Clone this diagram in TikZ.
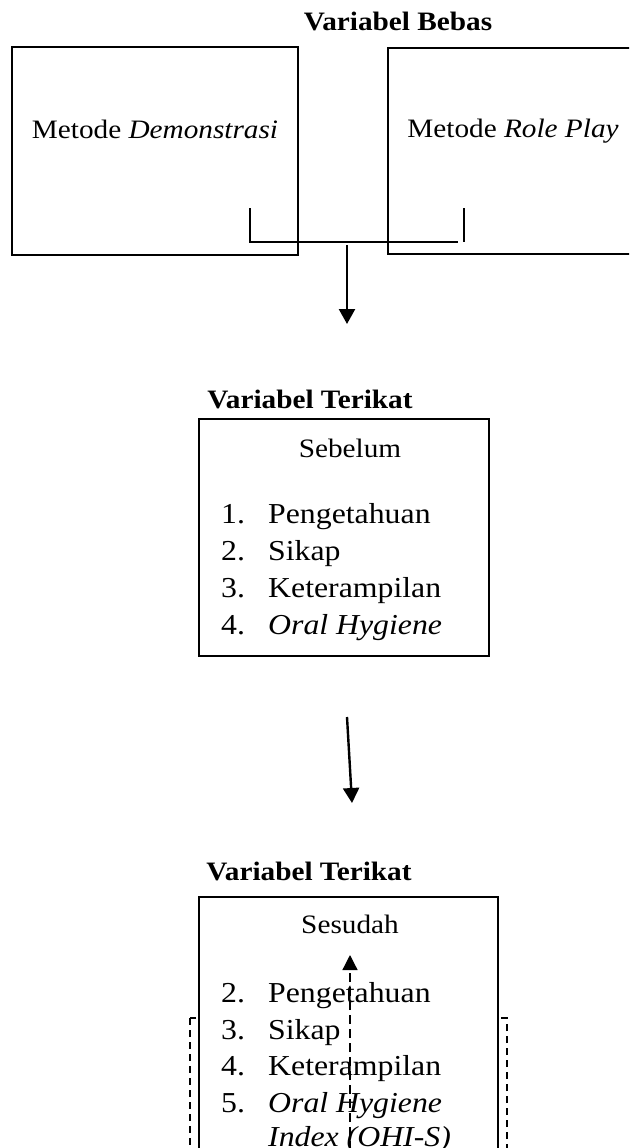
\documentclass[tikz,border=0pt]{standalone}
\usepackage{fontspec}
\setmainfont{Liberation Serif}[FakeStretch=1.1]
\usetikzlibrary{arrows.meta}

\tikzset{
  box/.style={draw, line width=1.2pt, fill=white, inner sep=0pt},
  title/.style={anchor=base, inner sep=0pt, font=\fontsize{26.6}{30}\selectfont\bfseries},
  txt/.style={anchor=base, inner sep=0pt, font=\fontsize{26.6}{30}\selectfont},
  item/.style={anchor=base west, inner sep=0pt, font=\fontsize{28.9}{32}\selectfont},
  arr/.style={line width=2.4pt, -{Triangle[length=15pt,width=16pt]}},
  dash box/.style={line width=1.2pt, dash pattern=on 7pt off 5pt}
}

\begin{document}
\begin{tikzpicture}[x=1pt,y=-1pt]
\useasboundingbox (0,0) rectangle (629,1148);
\clip (0,0) rectangle (629,1148);

\node[title] (bebas) at (398,31) {Variabel Bebas};
\node[box, minimum width=286pt, minimum height=208pt] (demo) at (155,151) {};
\node[txt] (demotext) at (155,138) {Metode \textit{Demonstrasi}};
\node[box, minimum width=250pt, minimum height=206pt] (role) at (513,151) {};
\node[txt] (roletext) at (513,137) {Metode \textit{Role Play}};

\coordinate (j1) at (250,208);
\coordinate (j2) at (250,242);
\coordinate (j3) at (458,242);
\coordinate (j4) at (464,208);
\coordinate (j5) at (464,242);
\draw[line width=1.2pt] (j1) -- (j2) -- (j3);
\draw[line width=1.6pt] (j4) -- (j5);

\coordinate (a1) at (347,245);
\coordinate (a2) at (347,324);
\draw[arr] (a1) -- (a2);

\node[title] (terikat1) at (310,408) {Variabel Terikat};
\node[box, minimum width=290pt, minimum height=237pt] (sebelum) at (344,537.5) {};
\node[txt] (sebelumtext) at (350,457) {Sebelum};
\node[item] (n1) at (221,523) {1.};
\node[item] (i1) at (268,523) {Pengetahuan};
\node[item] (n2) at (221,560) {2.};
\node[item] (i2) at (268,560) {Sikap};
\node[item] (n3) at (221,597) {3.};
\node[item] (i3) at (268,597) {Keterampilan};
\node[item] (n4) at (221,634) {4.};
\node[item] (i4) at (268,634) {\textit{Oral Hygiene}};

\coordinate (b1) at (347,717);
\coordinate (b2) at (352,803);
\draw[arr] (b1) -- (b2);

\node[title] (terikat2) at (309,880) {Variabel Terikat};
\draw[dash box] (190,1018) rectangle (507,1220);
\node[box, minimum width=299pt, minimum height=303pt] (sesudah) at (348.5,1048.5) {};
\node[txt] (sesudahtext) at (350,933) {Sesudah};
\node[item] (m2) at (221,1002) {2.};
\node[item] (k2) at (268,1002) {Pengetahuan};
\node[item] (m3) at (221,1039) {3.};
\node[item] (k3) at (268,1039) {Sikap};
\node[item] (m4) at (221,1075) {4.};
\node[item] (k4) at (268,1075) {Keterampilan};
\node[item] (m5) at (221,1112) {5.};
\node[item] (k5) at (268,1112) {\textit{Oral Hygiene}};
\node[item] (k6) at (268,1146) {\textit{Index (OHI-S)}};

\coordinate (d1) at (350,1220);
\coordinate (d2) at (350,955);
\draw[line width=1.3pt, dash pattern=on 9pt off 5pt, -{Triangle[length=15pt,width=15pt]}] (d1) -- (d2);

\end{tikzpicture}
\end{document}
